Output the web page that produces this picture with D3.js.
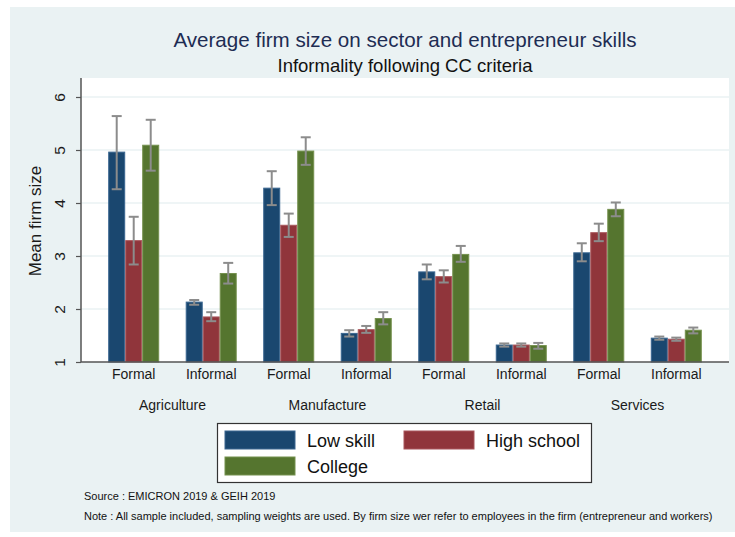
<!DOCTYPE html>
<html>
<head>
<meta charset="utf-8">
<script src="https://cdn.jsdelivr.net/npm/d3@7"></script>
<style>
  html, body { margin: 0; padding: 0; background: #ffffff; }
  svg { display: block; font-family: "Liberation Sans", Arial, sans-serif; }
</style>
</head>
<body>
<svg id="chart" width="735" height="537"></svg>
<script>
// Categories
const sectors = ["Agriculture", "Manufacture", "Retail", "Services"];
const statuses = ["Formal", "Informal"];
const skills = ["Low skill", "High school", "College"];
const yTicks = [1, 2, 3, 4, 5, 6];

// Mean firm size, ordered sector by sector: Formal, Informal
const lowSkill   = [4.96, 2.13, 4.28, 1.54, 2.70, 1.32, 3.06, 1.45];
const highSchool = [3.29, 1.85, 3.58, 1.61, 2.61, 1.32, 3.44, 1.43];
const college    = [5.09, 2.67, 4.98, 1.82, 3.03, 1.31, 3.88, 1.60];

// 95% confidence intervals (lower / upper)
const lowSkillLo   = [4.26, 2.08, 3.96, 1.48, 2.56, 1.29, 2.90, 1.42];
const lowSkillHi   = [5.64, 2.17, 4.60, 1.60, 2.84, 1.35, 3.24, 1.48];
const highSchoolLo = [2.84, 1.77, 3.36, 1.55, 2.50, 1.29, 3.28, 1.40];
const highSchoolHi = [3.74, 1.94, 3.80, 1.68, 2.73, 1.35, 3.61, 1.46];
const collegeLo    = [4.61, 2.48, 4.72, 1.71, 2.89, 1.25, 3.75, 1.54];
const collegeHi    = [5.57, 2.87, 5.24, 1.94, 3.19, 1.36, 4.01, 1.65];

const title = "Average firm size on sector and entrepreneur skills";
const subtitle = "Informality following CC criteria";
const yTitle = "Mean firm size";
const notes = [
  "Source : EMICRON 2019 & GEIH 2019",
  "Note : All sample included, sampling weights are used. By firm size wer refer to employees in the firm (entrepreneur and workers)"
];

// Build rows
const groups = [];
sectors.forEach(s => statuses.forEach(st => groups.push(s + "|" + st)));
const seriesMeans = [lowSkill, highSchool, college];
const seriesLo = [lowSkillLo, highSchoolLo, collegeLo];
const seriesHi = [lowSkillHi, highSchoolHi, collegeHi];
const rows = [];
groups.forEach((g, i) => {
  skills.forEach((k, j) => {
    rows.push({ group: g, skill: k, mean: seriesMeans[j][i], lo: seriesLo[j][i], hi: seriesHi[j][i] });
  });
});

const colors = { "Low skill": "#1a476f", "High school": "#90353b", "College": "#55752f" };
const edges  = { "Low skill": "#3a6690", "High school": "#a8575c", "College": "#75914f" };

const svg = d3.select("#chart");

// Page background
svg.append("rect").attr("x", 10).attr("y", 7).attr("width", 725).attr("height", 525).attr("fill", "#eaf2f3");

const plot = { left: 81, right: 729, top: 78, bottom: 362 };

// Plot region
svg.append("rect")
  .attr("x", plot.left).attr("y", plot.top)
  .attr("width", plot.right - plot.left).attr("height", plot.bottom - plot.top)
  .attr("fill", "#ffffff");

const y = d3.scaleLinear().domain([1, 6]).range([plot.bottom, 97]);

const x0 = d3.scaleBand().domain(groups).range([plot.left, plot.right])
  .paddingInner(0.342).paddingOuter(0.351);
const x1 = d3.scaleBand().domain(skills).range([0, x0.bandwidth()]);

// Gridlines
svg.append("g").selectAll("line").data(yTicks.filter(t => t > 1)).join("line")
  .attr("x1", plot.left).attr("x2", plot.right)
  .attr("y1", d => y(d)).attr("y2", d => y(d))
  .attr("stroke", "#eaf2f3").attr("stroke-width", 1.5);

// Bars
svg.append("g").selectAll("rect").data(rows).join("rect")
  .attr("x", d => x0(d.group) + x1(d.skill) + 0.5)
  .attr("width", x1.bandwidth() - 1)
  .attr("y", d => y(d.mean))
  .attr("height", d => y(1) - y(d.mean))
  .attr("fill", d => colors[d.skill])
  .attr("stroke", d => edges[d.skill])
  .attr("stroke-width", 1);

// Confidence interval whiskers
const ci = svg.append("g").attr("stroke", "#8c8c8c").attr("stroke-width", 2).attr("fill", "none");
const cx = d => x0(d.group) + x1(d.skill) + x1.bandwidth() / 2;
ci.selectAll("line.v").data(rows).join("line").attr("class", "v")
  .attr("x1", cx).attr("x2", cx).attr("y1", d => y(d.lo)).attr("y2", d => y(d.hi));
ci.selectAll("line.t").data(rows).join("line").attr("class", "t")
  .attr("x1", d => cx(d) - 5).attr("x2", d => cx(d) + 5).attr("y1", d => y(d.hi)).attr("y2", d => y(d.hi));
ci.selectAll("line.b").data(rows).join("line").attr("class", "b")
  .attr("x1", d => cx(d) - 5).attr("x2", d => cx(d) + 5).attr("y1", d => y(d.lo)).attr("y2", d => y(d.lo));

// Y axis
const yAxis = svg.append("g").attr("transform", `translate(${plot.left},0)`)
  .call(d3.axisLeft(y).tickValues(yTicks).tickSize(5).tickSizeOuter(0).tickFormat(d3.format("d")));
yAxis.select(".domain").attr("stroke", "#555555").attr("stroke-width", 1.5)
  .attr("d", `M0,${plot.top}V${plot.bottom}`);
yAxis.selectAll(".tick line").attr("stroke", "#555555").attr("stroke-width", 1.2);
yAxis.selectAll(".tick text")
  .attr("x", null).attr("dy", null)
  .attr("transform", "translate(-16,0) rotate(-90)")
  .attr("text-anchor", "middle")
  .attr("font-family", "Liberation Sans, Arial, sans-serif")
  .attr("font-size", 15.5).attr("fill", "#1a1a1a");

// X axis line
svg.append("line").attr("x1", plot.left).attr("x2", plot.right)
  .attr("y1", plot.bottom).attr("y2", plot.bottom)
  .attr("stroke", "#555555").attr("stroke-width", 1.5);

// Status labels
svg.append("g").selectAll("text").data(groups).join("text")
  .attr("x", d => x0(d) + x0.bandwidth() / 2)
  .attr("y", 379)
  .attr("text-anchor", "middle").attr("font-size", 14).attr("fill", "#1a1a1a")
  .text(d => d.split("|")[1]);

// Sector labels
svg.append("g").selectAll("text").data(sectors).join("text")
  .attr("x", s => {
    const a = x0(s + "|Formal") + x0.bandwidth() / 2;
    const b = x0(s + "|Informal") + x0.bandwidth() / 2;
    return (a + b) / 2;
  })
  .attr("y", 410)
  .attr("text-anchor", "middle").attr("font-size", 14).attr("fill", "#1a1a1a")
  .text(d => d);

// Axis title
svg.append("text")
  .attr("transform", `translate(41,${(plot.top + plot.bottom) / 2 + 1}) rotate(-90)`)
  .attr("text-anchor", "middle").attr("font-size", 17).attr("fill", "#1a1a1a")
  .text(yTitle);

// Titles
const midX = (plot.left + plot.right) / 2;
svg.append("text").attr("x", midX).attr("y", 47)
  .attr("text-anchor", "middle").attr("font-size", 20.6).attr("fill", "#1e2d53")
  .text(title);
svg.append("text").attr("x", midX).attr("y", 72)
  .attr("text-anchor", "middle").attr("font-size", 18.5).attr("fill", "#111111")
  .text(subtitle);

// Legend
const legend = svg.append("g");
legend.append("rect").attr("x", 217.5).attr("y", 423.5).attr("width", 374).attr("height", 59)
  .attr("fill", "#ffffff").attr("stroke", "#333333").attr("stroke-width", 1.2);
const legendPos = [
  { k: "Low skill", x: 225, y: 431 },
  { k: "High school", x: 404, y: 431 },
  { k: "College", x: 225, y: 457 }
];
legendPos.forEach(p => {
  legend.append("rect").attr("x", p.x).attr("y", p.y).attr("width", 70).attr("height", 18)
    .attr("fill", colors[p.k]).attr("stroke", edges[p.k]).attr("stroke-width", 1);
  legend.append("text").attr("x", p.x + 82).attr("y", p.y + 15.5)
    .attr("font-size", 18).attr("fill", "#111111").text(p.k);
});

// Notes
svg.append("g").selectAll("text").data(notes).join("text")
  .attr("x", 84).attr("y", (d, i) => 500 + i * 20)
  .attr("font-size", 11).attr("fill", "#111111")
  .text(d => d);
</script>
</body>
</html>
